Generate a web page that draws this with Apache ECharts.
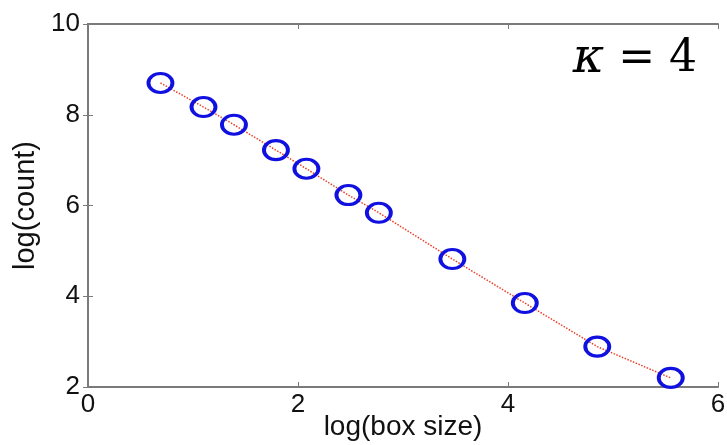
<!DOCTYPE html>
<html>
<head>
<meta charset="utf-8">
<script src="https://cdn.jsdelivr.net/npm/echarts@6/dist/echarts.min.js"></script>
<style>
  html, body { margin: 0; padding: 0; background: #fff; }
  #chart { width: 727px; height: 445px; }
</style>
</head>
<body>
<div id="chart"></div>
<script>
// log(box size) and log(count)
var logBoxSize = [0.69, 1.10, 1.39, 1.79, 2.08, 2.48, 2.77, 3.47, 4.16, 4.85, 5.55];
var logCount = [8.70, 8.17, 7.78, 7.22, 6.81, 6.23, 5.84, 4.82, 3.85, 2.89, 2.20];
var xTicks = [0, 2, 4, 6];
var yTicks = [2, 4, 6, 8, 10];

var points = logBoxSize.map(function (x, i) { return [x, logCount[i]]; });

var axisColor = '#7a7a7a';
var font = '"Liberation Sans", Arial, sans-serif';
var serif = '"DejaVu Serif", "Liberation Serif", serif';

var chart = echarts.init(document.getElementById('chart'));
chart.setOption({
  animation: false,
  grid: { left: 88, right: 9, top: 24, bottom: 58, outerBoundsMode: 'none', containLabel: false },
  xAxis: [{
    type: 'value',
    min: xTicks[0],
    max: xTicks[xTicks.length - 1],
    interval: 2,
    name: 'log(box size)',
    nameLocation: 'middle',
    nameGap: 26,
    nameMoveOverlap: false,
    nameTextStyle: { color: '#111', fontSize: 28, fontFamily: font },
    axisLine: { lineStyle: { color: axisColor, width: 2 } },
    axisTick: { inside: true, length: 5, lineStyle: { color: axisColor } },
    axisLabel: { color: '#111', fontSize: 26, fontFamily: font, margin: 5 },
    splitLine: { show: false }
  }, {
    type: 'value',
    position: 'top',
    min: xTicks[0],
    max: xTicks[xTicks.length - 1],
    interval: 2,
    axisLine: { show: true, lineStyle: { color: axisColor, width: 2 } },
    axisTick: { inside: true, length: 5, lineStyle: { color: axisColor } },
    axisLabel: { show: false },
    splitLine: { show: false }
  }],
  yAxis: [{
    type: 'value',
    min: yTicks[0],
    max: yTicks[yTicks.length - 1],
    interval: 2,
    name: 'log(count)',
    nameLocation: 'middle',
    nameGap: 48,
    nameMoveOverlap: false,
    nameTextStyle: { color: '#111', fontSize: 29, fontFamily: font },
    axisLine: { show: true, lineStyle: { color: axisColor, width: 2 } },
    axisTick: { show: true, inside: true, length: 5, lineStyle: { color: axisColor } },
    axisLabel: { color: '#111', fontSize: 26, fontFamily: font, margin: 8 },
    splitLine: { show: false }
  }, {
    type: 'value',
    position: 'right',
    min: yTicks[0],
    max: yTicks[yTicks.length - 1],
    interval: 2,
    axisLine: { show: true, lineStyle: { color: axisColor, width: 2 } },
    axisTick: { show: true, inside: true, length: 5, lineStyle: { color: axisColor } },
    axisLabel: { show: false },
    splitLine: { show: false }
  }],
  series: [{
    type: 'line',
    data: points,
    xAxisIndex: 0,
    yAxisIndex: 0,
    symbol: 'circle',
    symbolSize: [24, 19],
    lineStyle: { color: '#e8412a', width: 1.5, type: 'dotted' },
    itemStyle: { color: 'rgba(0,0,0,0)', borderColor: '#1010e0', borderWidth: 3.5 },
    z: 3
  }],
  graphic: [{
    type: 'text',
    right: 30,
    top: 36,
    style: {
      text: '{k|κ} = 4',
      fill: '#000',
      font: '44px ' + serif,
      rich: {
        k: { fontStyle: 'italic', fontSize: 48, fontFamily: serif }
      }
    }
  }]
});
</script>
</body>
</html>
